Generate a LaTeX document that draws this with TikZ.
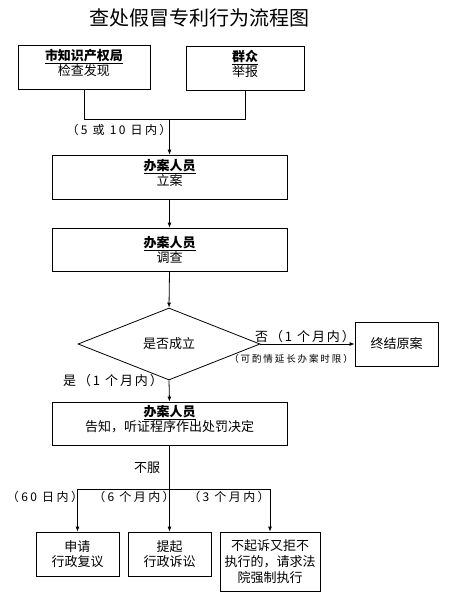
\documentclass[tikz,border=0pt]{standalone}
\usepackage{fontspec}
\setmainfont{Noto Sans CJK SC}
\usetikzlibrary{shapes.geometric,arrows.meta}
\newcommand\hd[1]{\underline{\textbf{#1}}}
\begin{document}
\begin{tikzpicture}[x=1pt,y=-1pt,
  box/.style={draw, line width=0.8pt, inner sep=0pt, align=center, font=\fontsize{13}{15}\selectfont},
  up/.style={text depth=10pt},
  arr/.style={-{Latex[length=5pt,width=4pt]}, line width=0.8pt},
  ln/.style={line width=0.8pt},
  lbl/.style={inner sep=0pt, font=\fontsize{12}{14}\selectfont\addfontfeature{LetterSpace=20}},
  small/.style={inner sep=0pt, font=\fontsize{9.5}{10}\selectfont\addfontfeature{LetterSpace=20}}]
\useasboundingbox (0,0) rectangle (455,616);
\fill[white] (0,0) rectangle (455,616);
% title
\node[inner sep=0pt, font=\fontsize{20}{22}\selectfont] (title) at (199,18) {查处假冒专利行为流程图};
% boxes
\node[box, up, minimum width=132pt, minimum height=44pt] (b1) at (84,67) {\hd{市知识产权局}\\检查发现};
\node[box, up, minimum width=118pt, minimum height=44pt] (b2) at (245,68) {\hd{群众}\\举报};
\node[box, up, minimum width=235pt, minimum height=44pt] (b3) at (169.5,177) {\hd{办案人员}\\立案};
\node[box, minimum width=235pt, minimum height=43pt] (b4) at (169.5,249.5) {\hd{办案人员}\\调查};
\node[draw, line width=0.8pt, diamond, aspect=2.53, minimum width=182pt, minimum height=72pt, inner sep=0pt, font=\fontsize{13}{15}\selectfont] (d) at (169,344) {是否成立};
\node[box, minimum width=83pt, minimum height=44pt] (end) at (396.5,344) {终结原案};
\node[box, up, minimum width=235pt, minimum height=43pt] (b5) at (169.5,423.5) {\hd{办案人员}\\告知，听证程序作出处罚决定};
\node[box, minimum width=83pt, minimum height=44pt] (ba) at (77.5,554) {申请\\行政复议};
\node[box, minimum width=83pt, minimum height=44pt] (bb) at (169.5,554) {提起\\行政诉讼};
\node[box, minimum width=100pt, minimum height=59pt, font=\fontsize{13}{16}\selectfont] (bc) at (270,561.5) {不起诉又拒不\\执行的，请求法\\院强制执行};
% junctions
\coordinate (j1) at (169.5,119);
\coordinate (j2) at (169.5,489);
% connectors
\draw[ln] (b1.south) |- (b2.south |- j1) -- (b2.south);
\draw[arr] (j1) -- (b3.north);
\draw[arr] (b3.south) -- (b4.north);
\draw[arr] (b4.south) -- (d.north);
\draw[arr] (d.east) -- (end.west);
\draw[arr] (d.south) -- (b5.north);
\draw[ln] (b5.south) -- (j2);
\draw[ln] (ba.north |- j2) -- (bc.north |- j2);
\draw[arr] (ba.north |- j2) -- (ba.north);
\draw[arr] (j2) -- (bb.north);
\draw[arr] (bc.north |- j2) -- (bc.north);
% labels
\node[lbl] (l1) at (119,130) {（5 或 10 日内）};
\node[lbl, font=\fontsize{13}{14}\selectfont\addfontfeature{LetterSpace=15}] (l2) at (305,337) {否（1 个月内）};
\node[small] (l3) at (291,359) {（可酌情延长办案时限）};
\node[lbl, font=\fontsize{13}{14}\selectfont\addfontfeature{LetterSpace=15}] (l4) at (113,381) {是（1 个月内）};
\node[lbl, font=\fontsize{13}{14}\selectfont] (l5) at (147,468) {不服};
\node[lbl] (l6) at (45,497) {（60 日内）};
\node[lbl] (l7) at (134,497) {（6 个月内）};
\node[lbl] (l8) at (229,497) {（3 个月内）};
\end{tikzpicture}
\end{document}
